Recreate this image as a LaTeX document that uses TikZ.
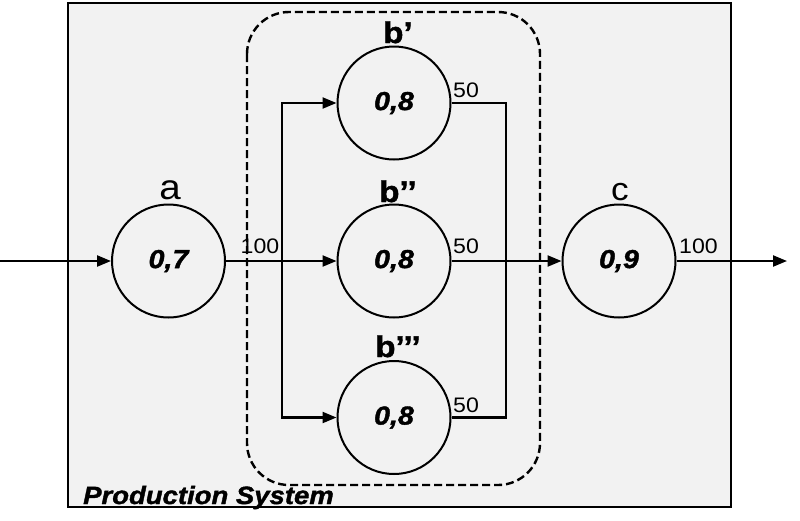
\documentclass[tikz,border=0pt]{standalone}
\usepackage{fontspec}
\setmainfont[FakeStretch=1.1,BoldFeatures={FakeBold=1.5},BoldItalicFeatures={FakeBold=1.5}]{Liberation Sans}
\usetikzlibrary{arrows.meta}
\tikzset{
  proc/.style={circle,draw,line width=2pt,minimum size=113pt,inner sep=0pt,
    font=\fontsize{26}{26}\selectfont\bfseries\itshape},
  conn/.style={line width=2.2pt},
  arr/.style={conn,-{Triangle[length=14pt,width=11pt]}},
  qty/.style={anchor=west,inner sep=0pt,font=\fontsize{21}{21}\selectfont},
  blab/.style={anchor=base,inner sep=0pt,font=\fontsize{30}{30}\selectfont\bfseries},
  nlab/.style={anchor=base,inner sep=0pt},
}
\begin{document}
\begin{tikzpicture}[x=1pt,y=-1pt]
\useasboundingbox (0,0) rectangle (800,520);
\draw[line width=2.8pt,fill=gray!10] (68,3) rectangle (731,507);
\draw[line width=2.4pt,dash pattern=on 8pt off 4pt,rounded corners=42pt] (247,12) rectangle (540,485);
\node[proc] (a) at (168.5,261) {0,7};
\node[proc] (b1) at (394,103) {0,8};
\node[proc] (b2) at (394,261) {0,8};
\node[proc] (b3) at (394,417.5) {0,8};
\node[proc] (c) at (619,261) {0,9};
\coordinate (in) at (0,261);
\coordinate (out) at (787,261);
\coordinate (j) at (282,261);
\coordinate (m) at (506,261);
\draw[arr] (in) -- (a.west);
\draw[arr] (a.east) -- (b2.west);
\draw[arr] (j) |- (b1.west);
\draw[arr] (j) |- (b3.west);
\draw[conn] (b1.east) -| (m) |- (b3.east);
\draw[arr] (b2.east) -- (c.west);
\draw[arr] (c.east) -- (out);
\node[nlab,font=\fontsize{35}{35}\selectfont] (la) at (170,199) {a};
\node[nlab,font=\fontsize{32}{32}\selectfont] (lc) at (620,200) {c};
\node[blab] (lb1) at (398,43) {b’};
\node[blab] (lb2) at (398,202) {b’’};
\node[blab] (lb3) at (398,357) {b’’’};
\node[qty] (q1) at (240.5,246) {100};
\node[qty] (q2) at (453,90) {50};
\node[qty] (q3) at (453,246) {50};
\node[qty] (q4) at (453,405) {50};
\node[qty] (q5) at (679,246) {100};
\node[anchor=base west,inner sep=0pt,font=\fontsize{25}{25}\selectfont\bfseries\itshape] (ps) at (83,504) {Production System};
\end{tikzpicture}
\end{document}
